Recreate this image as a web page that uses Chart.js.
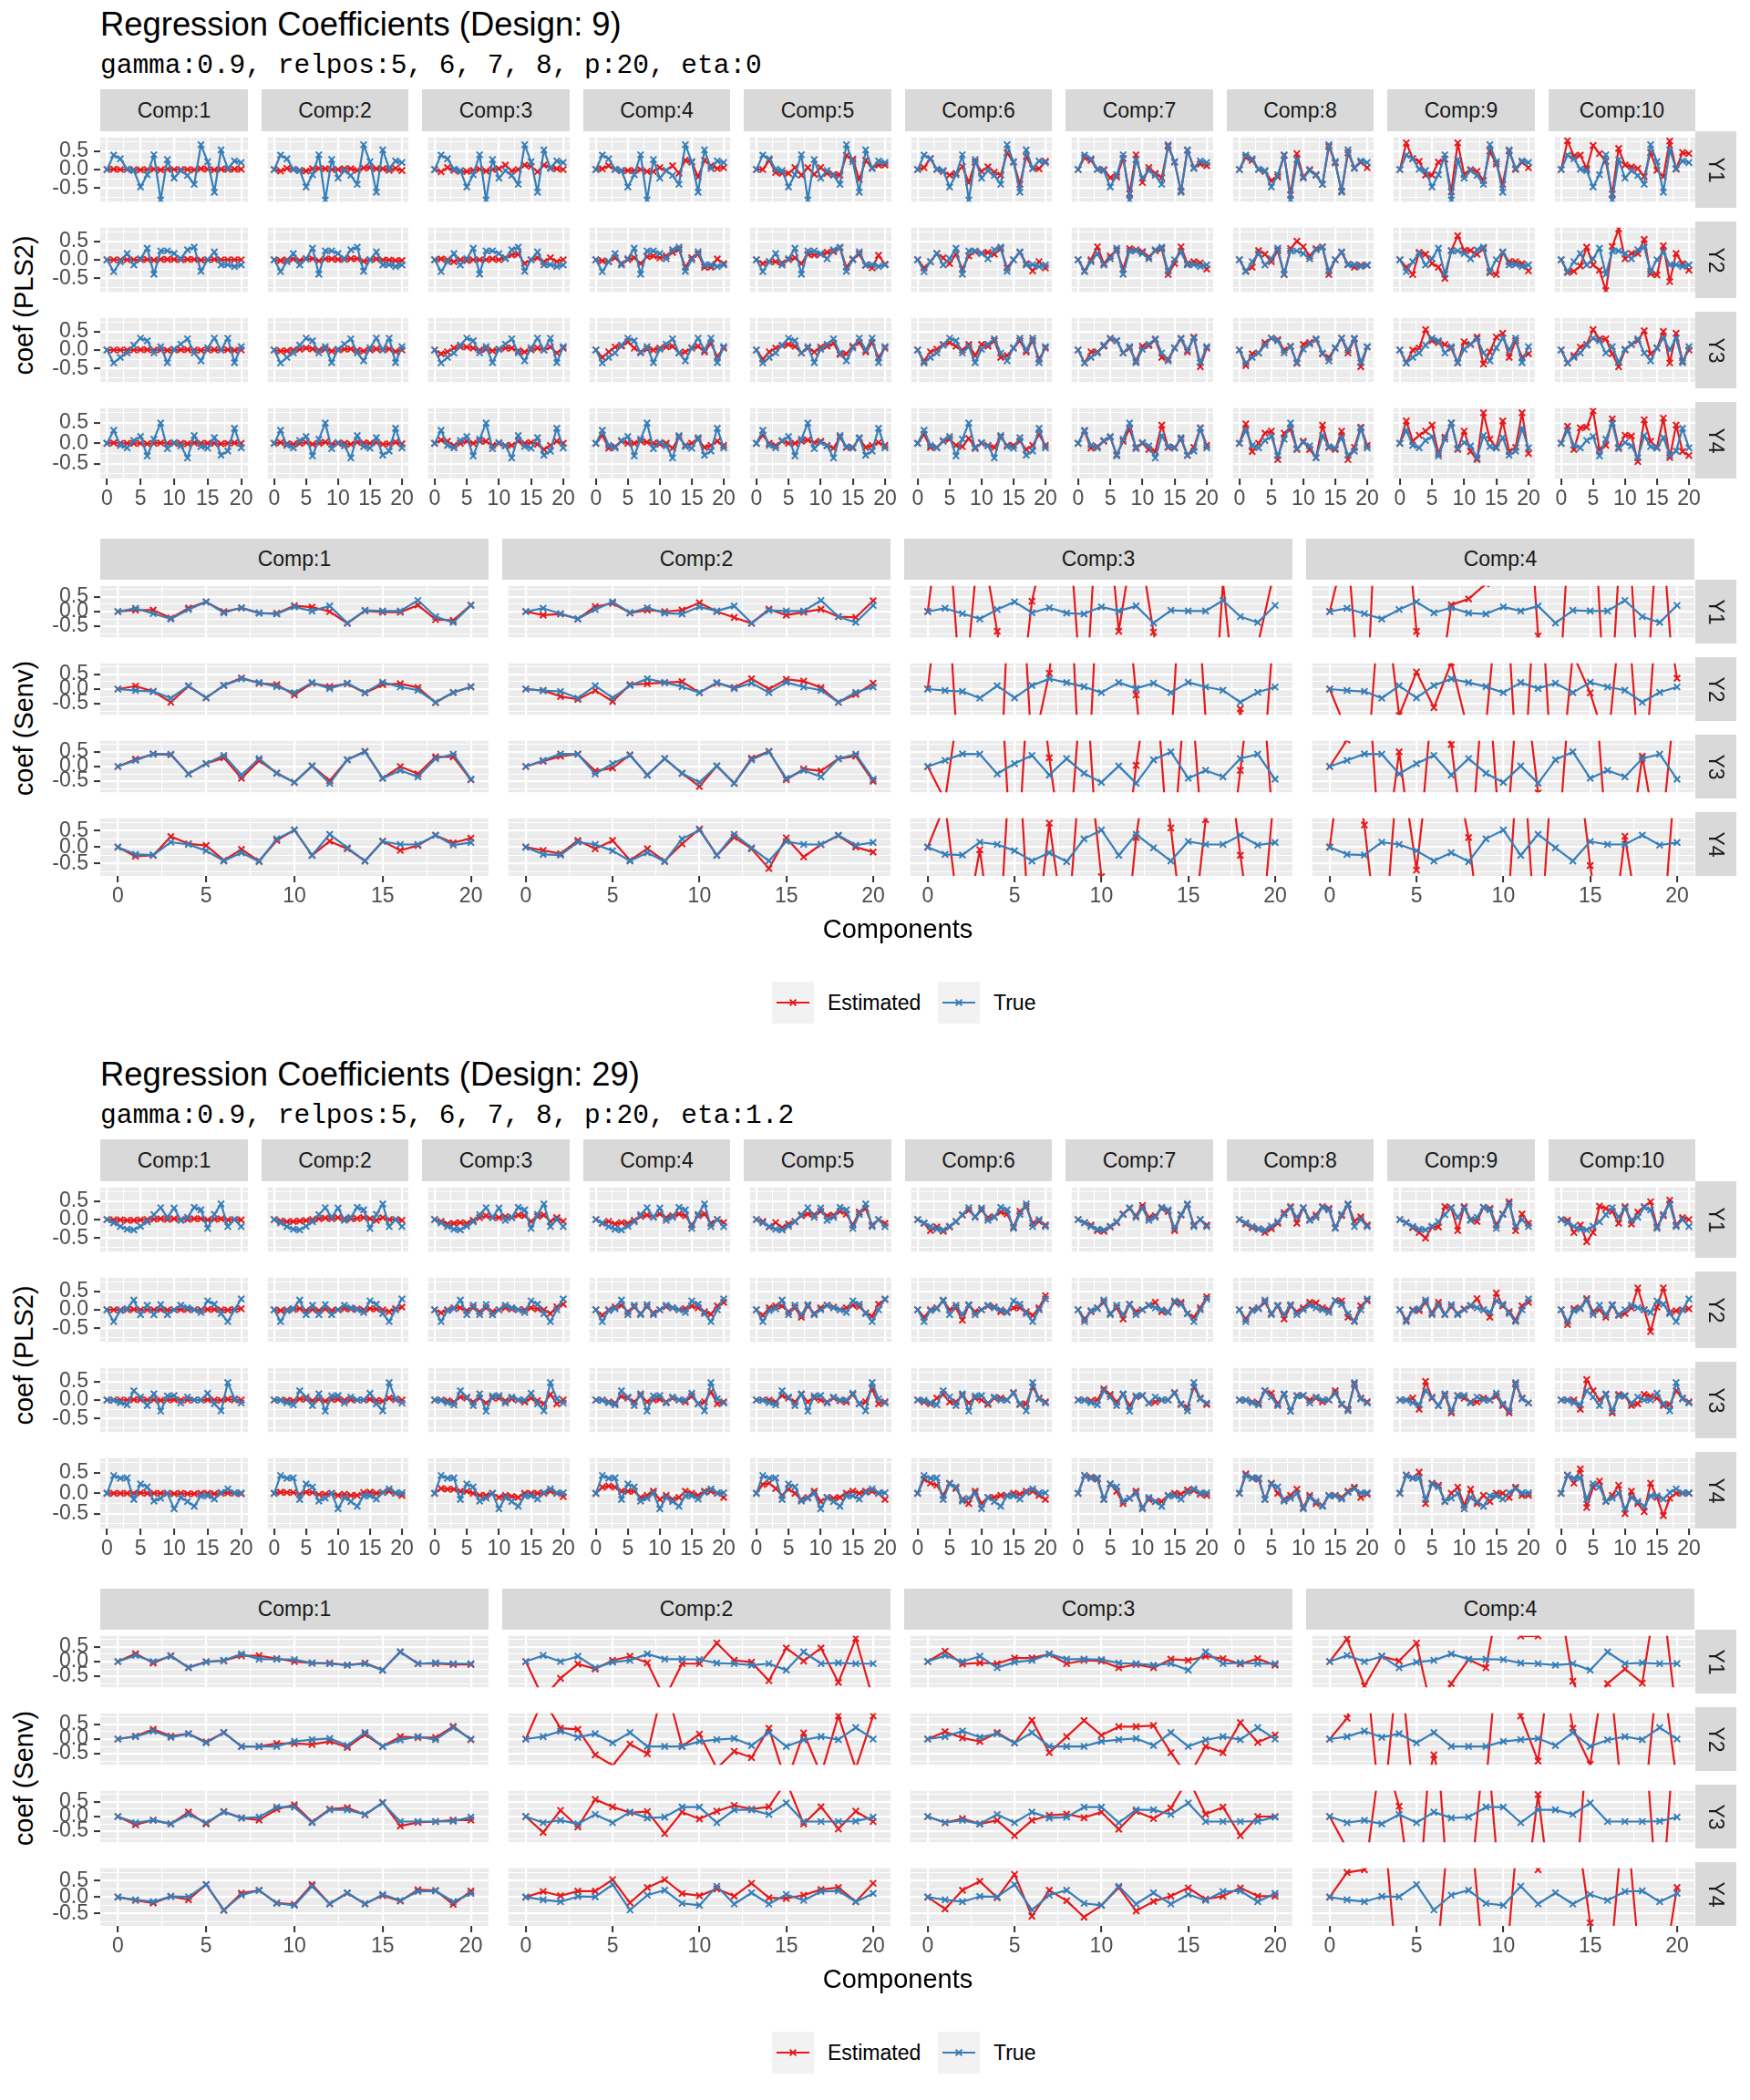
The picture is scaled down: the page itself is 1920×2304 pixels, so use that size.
<!DOCTYPE html>
<html><head><meta charset="utf-8">
<script src="https://cdn.jsdelivr.net/npm/chart.js@4.4.1/dist/chart.umd.min.js"></script>
<style>
body{margin:0;background:#fff;width:1920px;height:2304px;position:relative;overflow:hidden;font-family:"Liberation Sans",Arial,sans-serif;}
.strip{position:absolute;background:#D9D9D9;color:#1A1A1A;font-size:23px;display:flex;align-items:center;justify-content:center;white-space:nowrap;}
.rot{position:absolute;white-space:nowrap;line-height:1;}
</style></head><body>
<script>
// ---------------- DATA ----------------
const predictors = [0,1,2,3,4,5,6,7,8,9,10,11,12,13,14,15,16,17,18,19,20];
const xMajor = [0,5,10,15,20];
const xGridVals = [0,2.5,5,7.5,10,12.5,15,17.5,20];
const yMajor = [-0.5,0,0.5];
const yGridVals = [-0.75,-0.5,-0.25,0,0.25,0.5,0.75];
const compsPLS2 = ['Comp:1','Comp:2','Comp:3','Comp:4','Comp:5','Comp:6','Comp:7','Comp:8','Comp:9','Comp:10'];
const compsSenv = ['Comp:1','Comp:2','Comp:3','Comp:4'];
const responses = ['Y1','Y2','Y3','Y4'];
const legendLabels = ['Estimated','True'];
const designTitles = ['Regression Coefficients (Design: 9)','Regression Coefficients (Design: 29)'];
const designSubtitles = ['gamma:0.9, relpos:5, 6, 7, 8, p:20, eta:0','gamma:0.9, relpos:5, 6, 7, 8, p:20, eta:1.2'];
const yTitles = ['coef (PLS2)','coef (Senv)'];
const xTitle = 'Components';

// Design 9, PLS2 true coefficients
const d9_pls2_Y1_true = [0,0.39,0.29,0.01,-0.03,-0.47,-0.14,0.40,-0.82,0.27,-0.23,-0.03,-0.16,-0.40,0.67,0.21,-0.61,0.53,0.03,0.23,0.19];
const d9_pls2_Y2_true = [0,-0.32,-0.05,0.17,-0.14,0.03,0.31,-0.39,0.24,0.24,0.17,0.03,0.27,0.34,-0.31,0.0,0.21,-0.14,-0.13,-0.18,-0.14];
const d9_pls2_Y3_true = [0,-0.35,-0.2,-0.08,0.13,0.32,0.25,-0.08,0.09,-0.34,0.02,0.16,0.3,-0.08,-0.29,0.06,0.32,0.0,0.32,-0.34,0.09];
const d9_pls2_Y4_true = [0,0.32,-0.05,-0.11,0.07,0.17,-0.31,0.1,0.5,-0.13,0.02,-0.06,-0.36,0.19,-0.08,-0.12,0.14,-0.29,-0.19,0.37,-0.11];
// Design 9, PLS2 estimated (one row per component 1..10)
const d9_pls2_Y1_est = [
[0,0.01,0,0,0,-0.01,0,0.01,-0.01,0.01,0,0,0,-0.01,0.02,0.01,-0.01,0.01,0,0.01,0.01],
[0,-0.04,0.03,0,-0.02,-0.04,0.02,0.03,0.02,0,0,0.02,0.02,-0.02,0.04,0.05,0.02,0.02,-0.02,0.03,-0.03],
[0,-0.06,0.05,-0.02,-0.05,-0.05,-0.02,0.01,-0.04,0,0.02,0.12,-0.04,0,0.12,0.08,-0.06,0.12,0.05,0.02,0],
[0,0.02,0.1,0,-0.03,-0.03,-0.03,0,-0.05,-0.05,0.05,-0.03,0.1,-0.1,0.25,0.2,-0.2,0.25,0.1,0.03,0.05],
[0,0,0.25,-0.08,-0.1,-0.1,0.05,-0.15,0.05,-0.13,0.05,-0.1,-0.13,-0.15,0.38,0.28,-0.27,0.25,0.05,0.12,0.12],
[0,0.05,0.3,0,-0.05,-0.15,-0.1,0.08,-0.35,0.2,-0.05,0.07,-0.07,-0.15,0.45,0.2,-0.4,0.35,0.03,0.02,0.22],
[0,0.32,0.25,0,0,-0.22,-0.2,0.3,-0.65,0.4,-0.35,0.05,-0.1,-0.22,0.63,0.2,-0.58,0.52,0.05,0.15,0.1],
[0,0.33,0.25,0,-0.05,-0.3,-0.2,0.38,-0.68,0.43,-0.2,0,-0.14,-0.4,0.62,0.18,-0.58,0.45,0.05,0.2,0.05],
[0,0.72,0.3,0.22,-0.15,-0.15,0.2,0.28,-0.6,0.72,-0.13,0,-0.05,-0.3,0.5,0.15,-0.4,0.5,0,0.2,0.05],
[0,0.78,0.36,0.39,0.02,0.65,0.43,0.22,-0.66,0.57,0.12,0.07,0.03,-0.19,0.46,-0.02,-0.19,0.77,0.01,0.46,0.43]];
const d9_pls2_Y2_est = [
[0,0,0,0,0,0,0.01,-0.01,0.01,0.01,0.01,0,0.01,0.01,-0.01,0,0.01,0,0,0,0],
[0,-0.02,0,0.02,-0.02,0.02,0.03,-0.03,0.02,0.02,0.01,0.01,0.03,0.03,-0.04,0,0.02,-0.01,-0.01,-0.02,-0.02],
[0,0.02,0,-0.05,0,-0.02,0,0,0,0.02,0,0.05,0.13,0.15,-0.1,0,0.05,-0.05,0.05,-0.05,0],
[0,-0.03,-0.05,0.05,-0.1,0,0.05,-0.1,0.08,0.1,0.05,0.1,0.2,0.28,-0.2,0.05,0.15,-0.2,-0.2,0.02,-0.1],
[0,-0.1,-0.05,-0.05,-0.08,0,0.05,-0.1,0.15,0.13,0.15,0.2,0.22,0.32,-0.2,0.02,0.15,-0.15,-0.22,0.12,-0.12],
[0,-0.22,-0.05,0.17,0.05,-0.1,0.15,-0.25,0.1,0.22,0.18,0.2,0.15,0.3,-0.22,0,0.2,-0.1,-0.3,-0.05,-0.22],
[0,-0.3,0,0.35,-0.1,0.1,0.25,-0.25,0.3,0.27,0.22,0.08,0.24,0.3,-0.4,-0.1,0.35,-0.1,-0.05,-0.08,-0.25],
[0,-0.3,-0.2,0.25,0.15,-0.05,0.25,-0.4,0.3,0.5,0.35,0.1,0.3,0.35,-0.4,0,0.2,-0.12,-0.2,-0.15,-0.15],
[0,-0.2,-0.4,0.2,0.15,-0.1,-0.2,-0.5,0.25,0.65,0.25,0.25,0.15,0.3,-0.35,-0.4,0.2,-0.05,-0.05,-0.1,-0.3],
[0,-0.34,-0.31,-0.17,0.34,-0.14,-0.28,-0.83,0.36,0.83,0.03,0.17,0.17,0.55,-0.38,-0.41,0.38,-0.59,0.17,-0.1,-0.28]];
const d9_pls2_Y3_est = [
[0,0,0,0,0,0.01,0.01,0,0,-0.01,0,0.01,0.01,0,-0.01,0,0.01,0,0.01,-0.01,0],
[0,-0.03,-0.02,0,0.02,0.05,0.03,0,0.02,-0.03,0,0.02,0.03,-0.01,-0.03,0,0.03,0,0.03,-0.04,0],
[0,-0.1,-0.05,0.05,0.08,0.08,0.05,0,0.02,-0.02,0.02,0.05,0.05,-0.02,-0.05,0,0.05,0,0.08,-0.08,0.05],
[0,-0.2,-0.05,0.08,0.1,0.22,0.05,-0.05,0.02,0,0.05,0.08,0.1,-0.08,-0.05,0.05,0.1,-0.05,0.18,-0.18,0.05],
[0,-0.25,-0.05,0.05,0.12,0.15,0.1,-0.08,0.05,-0.05,0.08,0.1,0.18,-0.12,-0.1,0.1,0.2,-0.05,0.2,-0.2,0.05],
[0,-0.3,-0.05,0.02,0.15,0.2,0.1,0,0.15,-0.15,0.15,0.1,0.25,-0.2,-0.15,0.05,0.25,-0.05,0.25,-0.25,0.05],
[0,-0.35,-0.05,-0.05,0.1,0.3,0.25,-0.08,0.05,-0.3,0.1,0.12,0.28,-0.2,-0.25,0.05,0.3,-0.05,0.35,-0.45,0.05],
[0,-0.42,-0.1,-0.08,0.2,0.32,0.28,0,0.1,-0.36,0.15,0.2,0.28,-0.1,-0.2,0.05,0.32,-0.08,0.3,-0.45,0.08],
[0,-0.35,0,0.05,0.55,0.25,0.2,0.15,0.05,-0.35,0.22,0.15,0.35,-0.38,-0.05,0.35,0.45,-0.2,0.25,-0.2,-0.1],
[0,-0.35,-0.15,0.08,0.15,0.55,0.3,0.3,-0.1,-0.45,0,0.15,0.25,0.52,-0.1,0.05,0.5,-0.35,0.45,-0.3,0]];
const d9_pls2_Y4_est = [
[0,0.01,0,0,0,0,-0.01,0,0.01,0,0,0,-0.01,0.01,0,0,0,-0.01,0,0.01,0],
[0,0.02,-0.01,-0.02,0,0.02,-0.02,0,0.03,-0.02,0,0,-0.02,0.03,0.01,0,0.02,-0.02,-0.01,0.03,-0.01],
[0,0.08,0.05,-0.05,0,0.05,0,0.05,0.05,-0.05,0,-0.05,-0.05,0.05,0,0.02,-0.02,-0.15,-0.05,0.05,0],
[0,0.2,-0.12,-0.08,0.05,0,0,0.05,0.03,0,-0.02,0,-0.12,0.15,-0.05,0,0.1,-0.1,-0.05,0.05,-0.05],
[0,0.2,0,-0.05,0.05,0,0,0.05,0.08,0.02,0.05,-0.05,-0.12,0.15,-0.1,-0.1,0.12,-0.1,-0.05,0.02,-0.05],
[0,0.22,-0.1,-0.1,0.05,0.1,-0.05,-0.08,0.12,-0.1,0,-0.05,-0.1,0.15,-0.05,-0.05,0.05,-0.15,-0.05,0.22,-0.05],
[0,0.3,-0.12,-0.08,0.05,0.15,-0.28,0.05,0.35,-0.1,0,-0.15,-0.2,0.45,-0.1,-0.1,0.1,-0.3,-0.1,0.38,-0.05],
[0,0.48,-0.2,0,0.25,0.3,-0.4,0.25,0.35,-0.15,0.05,-0.15,-0.35,0.45,-0.1,-0.15,0.3,-0.4,-0.1,0.4,-0.05],
[0,0.55,0.05,0.2,0.3,0.45,-0.25,0.15,0.5,-0.15,0.3,-0.2,-0.4,0.75,0.1,-0.1,0.55,-0.2,-0.1,0.75,-0.25],
[0,0.42,-0.15,0.38,0.4,0.8,-0.15,-0.05,0.6,-0.1,0.2,0.18,-0.45,0.58,0.05,-0.1,0.62,-0.35,0.45,-0.2,-0.3]];

// Design 9, Senv
const d9_senv_Y1_true = [0,0.11,-0.07,-0.25,0.07,0.33,-0.04,0.13,-0.05,-0.08,0.16,0.02,0.19,-0.39,0.04,0.02,0.02,0.38,-0.17,-0.37,0.21];
const d9_senv_Y2_true = [0,-0.05,-0.08,-0.31,0.11,-0.3,0.12,0.35,0.22,0.08,-0.12,0.22,0.02,0.2,-0.12,0.23,0.07,-0.04,-0.45,-0.11,0.07];
const d9_senv_Y3_true = [0,0.21,0.43,0.42,-0.25,0.1,0.38,-0.29,0.27,-0.23,-0.54,0.02,-0.57,0.23,0.5,-0.4,-0.13,-0.35,0.27,0.42,-0.43];
const d9_senv_Y4_true = [0,-0.22,-0.24,0.15,0.08,-0.11,-0.42,-0.17,-0.44,0.25,0.52,-0.25,0.39,-0.02,-0.42,0.17,0.08,0.08,0.36,0.06,0.14];
const d9_senv_Y1_est = [
[0,0.05,0.05,-0.22,0.12,0.33,0,0.12,-0.05,-0.06,0.2,0.15,0,-0.4,0.03,-0.02,-0.02,0.22,-0.27,-0.3,0.22],
[0,-0.12,-0.08,-0.25,0.17,0.28,-0.04,0.05,0,0.05,0.3,0,-0.2,-0.4,0.08,-0.12,-0.02,0.08,-0.17,-0.2,0.37],
[0,4.5,-3.6,2.8,-0.67,-4.8,0.35,3,4,-4,5.8,-0.67,3,-0.7,-4,-5,-8,1.0,-4.7,-1.15,1.5],
[0,2.4,-5,8,6,-0.67,-4,0.23,0.43,0.95,5,8,-0.83,-5,5,6,-5,5,-5,4,-4]];
const d9_senv_Y2_est = [
[0,0.1,-0.08,-0.45,0.1,-0.3,0.13,0.38,0.2,0.15,-0.2,0.2,0.08,0.18,-0.13,0.15,0.18,0.05,-0.46,-0.12,0.08],
[0,-0.05,-0.25,-0.35,-0.05,-0.42,0.15,0.18,0.22,0.25,-0.12,0.2,0.05,0.35,0,0.33,0.27,0.05,-0.45,-0.18,0.2],
[0,5,-5,-5,-6,8,-2.2,0.54,6,-6,6,6,-0.2,-6,-2,8,-1.0,-5,-0.67,-5.3,2.7],
[0,-1.45,-4,4,-0.9,0.58,-0.63,0.9,-1.5,-1.2,5,-5,5,-5,1.2,-0.13,-2,4,-4,4,0.37]];
const d9_senv_Y3_est = [
[0,0.25,0.42,0.4,-0.25,0.1,0.3,-0.4,0.2,-0.22,-0.54,0.02,-0.48,0.23,0.52,-0.4,0,-0.25,0.33,0.33,-0.45],
[0,0.18,0.35,0.42,-0.15,-0.05,0.4,-0.29,0.27,-0.23,-0.68,0.02,-0.57,0.28,0.52,-0.45,-0.08,-0.15,0.27,0.35,-0.5],
[0,-1.15,3,4,5,-5,5,0.3,-4,4,-5,-5,0.04,4,-4,4,-4,-5,-0.13,5,-3],
[0,0.9,5,-4,0.5,-4,3,0.75,-4,4,-4,4,-0.9,-4,4,5,-3,-4,0.35,-3,3]];
const d9_senv_Y4_est = [
[0,-0.28,-0.25,0.32,0.1,0.05,-0.4,-0.07,-0.42,0.2,0.52,-0.25,0.18,-0.05,-0.42,0.18,-0.1,0.05,0.36,0.13,0.27],
[0,-0.1,-0.2,0.2,-0.05,0.2,-0.4,-0.05,-0.42,0.1,0.55,-0.25,0.3,-0.05,-0.65,0.28,-0.3,0.08,0.35,0,-0.15],
[0,1.3,-3,-0.08,-4,5,-4,0.73,-3,4,-0.9,-5,0.29,4,0.58,-4,0.83,4,-0.25,-4,2],
[0,4,0.67,-4,3,-0.7,4,3,0.29,-4,-4,4,-4,4,4,-0.56,-4,0.33,-3,-4,3]];

// Design 29, PLS2
const d29_pls2_Y1_true = [0,-0.09,-0.19,-0.26,-0.28,-0.18,-0.06,0.13,0.32,0.06,0.31,-0.02,0.06,0.33,0.26,-0.24,0.14,0.42,-0.19,0.0,-0.19];
const d29_pls2_Y2_true = [0,-0.32,-0.02,0.03,0.26,-0.13,0.12,-0.13,0.14,-0.13,0.0,0.12,0.05,0.0,-0.07,0.24,0.15,-0.1,-0.32,0.0,0.29];
const d29_pls2_Y3_true = [0,-0.01,-0.07,-0.13,0.25,0.08,-0.15,0.17,-0.3,0.11,0.12,-0.08,0.08,0.0,0.0,0.18,-0.1,-0.29,0.47,0.03,-0.08];
const d29_pls2_Y4_true = [0,0.44,0.37,0.38,-0.15,0.23,0.16,-0.19,-0.12,0.0,-0.38,-0.1,-0.2,-0.32,-0.06,-0.06,-0.14,0.02,0.11,0.01,0.01];
const d29_pls2_Y1_est = [
[0,-0.01,-0.01,-0.02,-0.02,-0.01,0,0.01,0.02,0,0.02,0,0,0.02,0.02,-0.01,0.01,0.02,-0.01,0,-0.01],
[0,-0.04,-0.06,-0.05,-0.04,-0.03,0,0.02,0.04,0.02,0.05,0.02,0.02,0.03,0.05,0.02,-0.02,0.05,0,0,-0.02],
[0,-0.05,-0.12,-0.1,-0.08,-0.1,-0.02,0.05,0.1,0.05,0.05,0.08,0.05,0.12,0.1,-0.05,0.08,0.12,-0.05,0.05,-0.05],
[0,-0.1,-0.05,-0.12,-0.08,-0.1,-0.02,0.08,0.12,0.08,0.15,0.05,0.1,0.15,0.1,-0.15,0.1,0.15,-0.1,0,-0.08],
[0,-0.05,-0.2,-0.08,-0.22,-0.12,-0.05,0.1,0.15,0.13,0.22,0.1,0.12,0.22,0.15,-0.15,0.2,0.3,-0.15,0,-0.1],
[0,-0.1,-0.3,-0.2,-0.32,-0.2,-0.05,0.12,0.25,0.08,0.25,0.05,0.08,0.2,0.15,-0.2,0.22,0.35,-0.1,-0.05,-0.15],
[0,-0.08,-0.15,-0.3,-0.32,-0.2,-0.08,0.15,0.3,0.1,0.38,0.05,0.1,0.3,0.22,-0.3,0.12,0.4,-0.15,0,-0.15],
[0,-0.12,-0.22,-0.25,-0.35,-0.25,-0.1,0.18,0.35,-0.1,0.32,0,0.12,0.35,0.3,-0.22,0.1,0.4,-0.05,0.07,-0.15],
[0,-0.08,-0.22,-0.35,-0.5,-0.2,-0.2,0.35,0.32,-0.3,0.35,0,-0.05,0.33,0.3,-0.15,0.15,0.48,-0.3,0.15,-0.1],
[0,-0.02,-0.35,-0.15,-0.6,-0.35,0.36,0.3,0.22,-0.1,0.35,-0.12,0.2,0.35,0.48,-0.2,0.1,0.52,-0.15,0.05,0]];
const d29_pls2_Y2_est = [
[0,0,0,0,0.01,0,0,0,0.01,-0.01,0,0.01,0.01,0,0,0.01,0.01,0,-0.01,0.01,0.03],
[0,-0.02,0,0.01,0.03,-0.02,0.01,-0.02,0.02,-0.02,0,0.03,0.02,0.02,0,0.03,0.02,0,-0.05,0.03,0.07],
[0,-0.08,0,0.05,0.05,-0.02,0.05,-0.05,0.05,-0.05,0,0.05,0.02,0,0,0.05,0.02,0,-0.1,0.08,0.15],
[0,-0.15,0,0.08,0.12,-0.05,0.07,-0.1,0.08,-0.08,0,0.08,0.05,0,0.03,0.1,0.05,-0.05,-0.12,0.1,0.2],
[0,-0.15,0.05,0.1,0.1,-0.05,0.05,-0.2,0.1,-0.1,0.05,0.12,0.07,0,0.05,0.12,0.08,-0.08,-0.18,0.15,0.28],
[0,-0.2,0,0.05,0.24,0,0.05,-0.28,0.12,-0.05,0,0.1,0.08,-0.05,-0.05,0.05,0.05,-0.05,-0.15,0.05,0.38],
[0,-0.25,-0.05,0.05,0.2,-0.1,0.05,-0.25,0.15,-0.05,0,0.12,0.2,-0.05,-0.05,0.2,0.2,-0.1,-0.2,0.05,0.35],
[0,-0.25,0,0.05,0.2,-0.1,0.1,-0.25,0.1,-0.05,0.05,0.2,0.18,0.05,0,0.25,0.24,-0.2,-0.3,0.1,0.24],
[0,-0.28,0,-0.02,0.2,-0.08,0.2,-0.12,0.08,-0.1,0.02,0.1,0.3,0,-0.2,0.45,0.1,-0.05,-0.28,0.1,0.2],
[0,-0.4,0.03,0.05,0.3,-0.05,0,-0.2,0.12,-0.15,-0.1,0.05,0.59,0,-0.59,0.07,0.59,-0.07,-0.03,0,0.03]];
const d29_pls2_Y3_est = [
[0,0,0,0,0.01,0.01,0,0.01,-0.01,0,0.01,0,0,0,0,0.01,0,-0.01,0.02,0,0],
[0,0,-0.01,-0.02,0.03,0.02,-0.02,0.02,-0.03,0.01,0.02,-0.01,0.01,0,0,0.02,-0.01,-0.03,0.05,0.01,0],
[0,0,-0.02,-0.05,0.08,0.05,-0.05,0.05,-0.08,0.05,0.05,-0.02,0.03,0,-0.05,0.05,-0.02,-0.1,0.15,-0.1,0],
[0,0,-0.05,-0.08,0.1,0.05,-0.05,0.12,-0.05,0,0.02,-0.05,0.05,0,-0.05,0.1,-0.1,-0.05,0.22,-0.1,-0.05],
[0,0,0,-0.05,0.12,0.05,-0.05,0.15,-0.05,0.05,0,-0.05,0.05,-0.02,-0.05,0.15,-0.1,-0.05,0.3,-0.1,-0.05],
[0,-0.05,-0.1,0.05,0.15,-0.05,-0.05,0.12,-0.08,0.05,0,-0.12,0.05,0.05,0,0.2,-0.12,-0.1,0.35,0.05,-0.05],
[0,0,-0.02,0,0.3,0.15,-0.05,0.15,-0.15,0.08,0.12,-0.08,-0.05,0,0,0.2,-0.12,-0.2,0.35,0.05,-0.12],
[0,0,-0.05,-0.08,0.25,0.18,-0.1,0.15,-0.3,0.12,0.12,0,0.05,-0.05,0,0.25,-0.12,-0.25,0.42,0.05,-0.05],
[0,0,0.05,-0.25,0.5,0.05,-0.15,0.12,-0.35,0.12,0.05,-0.05,-0.05,0.05,0,0.1,-0.15,-0.35,0.42,0.05,-0.08],
[0,0,0,-0.25,0.55,0.25,0,0.15,-0.35,0.15,0.1,-0.15,-0.1,0.15,0.1,0.05,-0.15,-0.12,0.25,0.05,-0.05]];
const d29_pls2_Y4_est = [
[0,0,0,0,0,0.01,0,0,0,0,-0.01,0,-0.01,-0.01,0,0,-0.01,0,0.01,0,-0.01],
[0,0.03,0.02,0.02,-0.02,0.03,0.02,-0.03,-0.02,0,-0.05,-0.02,-0.05,-0.05,0.02,0.03,0,0.02,0.05,0,-0.05],
[0,0.12,0.1,0.1,0.05,0.05,0,-0.05,-0.05,0,-0.1,-0.05,-0.08,-0.1,0,0,0,0,0.05,0,-0.08],
[0,0.15,0.18,0.15,0.05,0.05,0.05,-0.1,-0.05,0.05,-0.15,-0.05,-0.15,-0.1,0.05,0,-0.05,0.05,0.05,0,-0.1],
[0,0.22,0.25,0.12,-0.05,0.1,0,-0.15,-0.1,0.05,-0.2,-0.1,-0.12,-0.1,0,0.05,0,0.05,0.05,0,-0.15],
[0,0.35,0.25,0.2,-0.05,0.25,0.12,-0.15,-0.25,0.05,-0.25,-0.1,-0.1,-0.05,-0.05,0,-0.02,0.05,0.05,-0.05,-0.15],
[0,0.44,0.4,0.35,-0.15,0.23,0.05,-0.25,-0.12,0.05,-0.35,-0.15,-0.2,-0.2,-0.05,0,-0.02,0.08,0.07,-0.02,-0.05],
[0,0.48,0.38,0.35,-0.15,0.25,0,-0.15,-0.05,0.1,-0.35,-0.05,-0.25,-0.3,-0.05,-0.05,-0.1,0.05,0.15,-0.1,-0.02],
[0,0.45,0.38,0.52,-0.25,0.25,0.2,-0.2,0,0.15,-0.3,0.1,-0.25,-0.05,-0.2,0,0,-0.1,0.15,-0.05,-0.05],
[0,0.45,0.25,0.6,-0.35,0.15,0.3,-0.2,-0.05,0.2,-0.5,0.05,-0.25,-0.45,0.25,-0.1,-0.55,-0.12,0,0,0]];

// Design 29, Senv
const d29_senv_Y1_true = [0,0.21,0.0,0.18,-0.21,-0.02,0.04,0.26,0.08,0.08,0.07,-0.05,-0.07,-0.12,-0.07,-0.29,0.33,-0.07,-0.04,-0.07,-0.07];
const d29_senv_Y2_true = [0,0.08,0.27,0.06,0.18,-0.13,0.22,-0.25,-0.25,-0.25,-0.08,-0.02,0.02,-0.22,0.22,-0.25,-0.03,0.08,-0.02,0.39,0.0];
const d29_senv_Y3_true = [0,-0.21,-0.13,-0.25,0.07,-0.21,0.15,-0.05,-0.02,0.32,0.32,-0.21,0.23,0.23,0.07,0.46,-0.17,-0.17,-0.17,-0.16,-0.02];
const d29_senv_Y4_true = [0,-0.08,-0.14,0.02,0.01,0.38,-0.39,0.06,0.21,-0.19,-0.25,0.33,-0.21,0.13,-0.21,0.08,-0.1,0.17,0.19,-0.14,0.11];
const d29_senv_Y1_est = [
[0,0.27,-0.05,0.2,-0.2,0,0.03,0.2,0.2,0.1,0,-0.05,-0.05,-0.12,-0.05,-0.29,0.33,-0.07,-0.07,-0.1,-0.1],
[0,-1.25,-0.57,-0.08,-0.25,0.04,0.18,-0.04,-1.25,-0.07,-0.07,0.63,0.04,-0.02,-0.65,0.46,0.02,0.46,-0.71,0.79,-1.3],
[0,0.35,-0.08,-0.04,-0.07,0.12,0.12,0.25,-0.07,0.04,0.02,-0.21,-0.1,-0.21,0.08,0.04,0.18,0.1,-0.08,0.1,-0.12],
[0,0.77,-0.83,0.18,0.02,0.63,-2,-0.75,0.07,-0.21,3,0.87,0.87,3,-0.67,-2,-0.75,-0.25,-0.73,3,-2]];
const d29_senv_Y2_est = [
[0,0.1,0.33,0.1,0.18,-0.1,0.22,-0.25,-0.25,-0.15,-0.15,-0.18,-0.08,-0.28,0.15,-0.25,0.08,0.05,0.05,0.43,-0.02],
[0,1.35,0.37,0.33,-0.54,-0.9,-0.17,-0.5,2,-0.25,0.17,-1.0,-0.42,-0.63,0.37,-1.5,0.21,-1.2,0.79,-1.0,0.79],
[0,0.25,0.04,-0.08,0.22,-0.13,0.64,-0.46,0.08,0.63,0.13,0.42,0.42,0.46,-0.46,-1.3,-0.25,-0.46,0.56,-0.11,0.14],
[0,0.71,3,-3,3,-3,-0.54,-3,-3,-1.5,5,0.79,-0.75,4,0.37,-0.86,3,-3,-3,3,-1.5]];
const d29_senv_Y3_est = [
[0,-0.28,-0.12,-0.25,0.15,-0.25,0.17,-0.05,-0.12,0.25,0.4,-0.18,0.25,0.3,0.06,0.48,-0.32,-0.2,-0.17,-0.12,-0.12],
[0,-0.54,0.21,-0.35,0.58,0.33,0.13,0.17,-0.58,0.15,-0.08,0.18,0.38,0.25,0.33,1.2,-0.25,0.33,-0.42,0.18,-0.17],
[0,-0.21,-0.07,-0.25,-0.13,-0.65,-0.13,0.04,0.08,-0.04,0.15,-0.43,0.17,-0.07,0.29,1.3,0.08,0.32,-0.65,0,0],
[0,-1.1,-2.1,2.4,0.35,-4,4,-4,-3,3,-4,-4,0.75,-4,-4,4,4,4,4,-4,4]];
const d29_senv_Y4_est = [
[0,-0.1,-0.18,0.02,-0.08,0.38,-0.4,0.12,0.2,-0.18,-0.22,0.38,-0.2,0.12,-0.2,0.05,-0.12,0.22,0.2,-0.22,0.18],
[0,0.17,0.04,0.18,0.18,0.53,-0.17,0.29,0.53,0.11,0.04,0.25,0.03,0.42,-0.02,-0.04,0.06,0.23,0.29,-0.14,0.42],
[0,-0.36,0.21,0.48,-0.02,0.69,-0.58,0.21,-0.11,-0.61,-0.25,0.29,-0.42,-0.13,0.03,0.28,-0.06,0.03,0.28,0.03,0.03],
[0,0.75,0.83,3,-3,-3,-3,3,3,-3,-3,3,0.83,3,3,-0.78,-3,3,-3,-3,0.29]];

// ---------------- LAYOUT / STYLE ----------------
const RED = '#E41A1C', BLUE = '#377EB8';
const FIG_OFFSETS = [0, 1152];
const PLS2_LIM = 0.866, SENV_LIM = 0.875;

const designs = [
  {pTrue:[d9_pls2_Y1_true,d9_pls2_Y2_true,d9_pls2_Y3_true,d9_pls2_Y4_true],
   pEst:[d9_pls2_Y1_est,d9_pls2_Y2_est,d9_pls2_Y3_est,d9_pls2_Y4_est],
   sTrue:[d9_senv_Y1_true,d9_senv_Y2_true,d9_senv_Y3_true,d9_senv_Y4_true],
   sEst:[d9_senv_Y1_est,d9_senv_Y2_est,d9_senv_Y3_est,d9_senv_Y4_est]},
  {pTrue:[d29_pls2_Y1_true,d29_pls2_Y2_true,d29_pls2_Y3_true,d29_pls2_Y4_true],
   pEst:[d29_pls2_Y1_est,d29_pls2_Y2_est,d29_pls2_Y3_est,d29_pls2_Y4_est],
   sTrue:[d29_senv_Y1_true,d29_senv_Y2_true,d29_senv_Y3_true,d29_senv_Y4_true],
   sEst:[d29_senv_Y1_est,d29_senv_Y2_est,d29_senv_Y3_est,d29_senv_Y4_est]}
];

Chart.defaults.font.family = '"Liberation Sans", Arial, sans-serif';
Chart.defaults.font.size = 23;
Chart.defaults.color = '#4D4D4D';

const near = (v, arr) => arr.some(a => Math.abs(a - v) < 1e-6);

const panelBg = {
  id: 'panelBg',
  beforeDraw(chart) {
    const a = chart.chartArea, c = chart.ctx;
    c.save(); c.fillStyle = '#EBEBEB';
    c.fillRect(a.left, a.top, a.right - a.left, a.bottom - a.top);
    c.restore();
  }
};

function div(cls, txt, css) {
  const d = document.createElement('div');
  if (cls) d.className = cls;
  d.textContent = txt;
  Object.assign(d.style, {position: 'absolute'}, css);
  document.body.appendChild(d);
  return d;
}

function makePanel(px, py, pw, ph, showX, showY, lim, trueVals, estVals) {
  const AX = showY ? 66 : 0, AH = showX ? 46 : 0, MR = 16;
  const cw = pw + AX + MR, ch = ph + AH;
  const cv = document.createElement('canvas');
  cv.width = cw; cv.height = ch;
  Object.assign(cv.style, {position: 'absolute', left: (px - AX) + 'px', top: py + 'px', width: cw + 'px', height: ch + 'px'});
  document.body.appendChild(cv);
  const toPts = vals => predictors.map((p, i) => ({x: p, y: vals[i]}));
  const ds = (label, vals, col) => ({
    label, data: toPts(vals), borderColor: col, backgroundColor: col,
    borderWidth: 2.2, borderJoinStyle: 'round', pointStyle: 'crossRot',
    pointRadius: 4.8, pointBorderWidth: 2, pointBorderColor: col, pointBackgroundColor: col,
    pointHoverRadius: 4.8, tension: 0, clip: 0, fill: false
  });
  const zeroPad = s => { s.paddingLeft = 0; s.paddingRight = 0; s.paddingTop = 0; s.paddingBottom = 0; };
  new Chart(cv, {
    type: 'line',
    data: {datasets: [ds(legendLabels[1], trueVals, BLUE), ds(legendLabels[0], estVals, RED)]},
    options: {
      responsive: false, animation: false, devicePixelRatio: 1, events: [],
      layout: {padding: {left: 0, top: 0, right: MR, bottom: 0}},
      plugins: {legend: {display: false}, tooltip: {enabled: false}},
      scales: {
        x: {
          type: 'linear', min: -1, max: 21, position: 'bottom',
          afterBuildTicks: s => { s.ticks = xGridVals.map(v => ({value: v})); },
          afterFit: s => { s.height = AH; zeroPad(s); },
          border: {display: false},
          grid: {
            color: '#FFFFFF',
            lineWidth: c => (c.tick && near(c.tick.value, xMajor)) ? 2.2 : 1.1,
            drawTicks: showX, tickLength: 7, tickWidth: 2,
            tickColor: c => (c.tick && near(c.tick.value, xMajor)) ? '#333333' : 'rgba(0,0,0,0)'
          },
          ticks: {
            display: showX, autoSkip: false, maxRotation: 0, minRotation: 0, padding: 2, color: '#4D4D4D',
            callback: v => near(v, xMajor) ? String(v) : ''
          }
        },
        y: {
          type: 'linear', min: -lim, max: lim, position: 'left',
          afterBuildTicks: s => { s.ticks = yGridVals.map(v => ({value: v})); },
          afterFit: s => { s.width = AX; zeroPad(s); },
          border: {display: false},
          grid: {
            color: '#FFFFFF',
            lineWidth: c => (c.tick && near(c.tick.value, yMajor)) ? 2.2 : 1.1,
            drawTicks: showY, tickLength: 7, tickWidth: 2,
            tickColor: c => (c.tick && near(c.tick.value, yMajor)) ? '#333333' : 'rgba(0,0,0,0)'
          },
          ticks: {
            display: showY, autoSkip: false, padding: 6, color: '#4D4D4D',
            callback: v => near(v, yMajor) ? v.toFixed(1) : ''
          }
        }
      }
    },
    plugins: [panelBg]
  });
}

function legendKey(x, y, col) {
  const s = `<svg width="46" height="46" xmlns="http://www.w3.org/2000/svg"><rect width="46" height="46" fill="#F2F2F2"/>` +
    `<line x1="5" y1="23" x2="41" y2="23" stroke="${col}" stroke-width="2.2"/>` +
    `<path d="M19.6 19.6 L26.4 26.4 M26.4 19.6 L19.6 26.4" stroke="${col}" stroke-width="2"/></svg>`;
  const d = document.createElement('div');
  Object.assign(d.style, {position: 'absolute', left: x + 'px', top: y + 'px', width: '46px', height: '46px'});
  d.innerHTML = s;
  document.body.appendChild(d);
}

FIG_OFFSETS.forEach((oy, f) => {
  const D = designs[f];
  div('', designTitles[f], {left: '110px', top: (oy + 8.5) + 'px', fontSize: '36.4px', lineHeight: '36px', color: '#000', whiteSpace: 'nowrap'});
  div('', designSubtitles[f], {left: '110px', top: (oy + 58) + 'px', fontSize: '29.5px', lineHeight: '29px', color: '#000', whiteSpace: 'pre', fontFamily: '"Liberation Mono", "Courier New", monospace'});

  // ---- PLS2 block ----
  compsPLS2.forEach((cname, c) => {
    const pl = Math.round(110 + c * 176.5), pr = Math.round(110 + c * 176.5 + 161.5);
    div('strip', cname, {left: pl + 'px', top: (oy + 98) + 'px', width: (pr - pl) + 'px', height: '46px'});
    responses.forEach((r, ri) => {
      const top = oy + 144 + ri * 99;
      makePanel(pl, top, pr - pl, 84, ri === 3, c === 0, PLS2_LIM, D.pTrue[ri], D.pEst[ri][c]);
    });
  });
  responses.forEach((r, ri) => {
    const s = div('strip', '', {left: '1860px', top: (oy + 144 + ri * 99) + 'px', width: '45px', height: '84px'});
    const t = document.createElement('span'); t.textContent = r; t.style.transform = 'rotate(90deg)'; t.style.display = 'inline-block';
    s.appendChild(t);
  });
  div('rot', yTitles[0], {left: '26px', top: (oy + 334.5) + 'px', fontSize: '29px', color: '#000', transform: 'translate(-50%,-50%) rotate(-90deg)'});

  // ---- Senv block ----
  compsSenv.forEach((cname, c) => {
    const pl = Math.round(110 + c * 441), w = 426;
    div('strip', cname, {left: pl + 'px', top: (oy + 591) + 'px', width: w + 'px', height: '45px'});
    responses.forEach((r, ri) => {
      const top = oy + 636 + ri * 85;
      makePanel(pl, top, w, 70, ri === 3, c === 0, SENV_LIM, D.sTrue[ri], D.sEst[ri][c]);
    });
  });
  responses.forEach((r, ri) => {
    const s = div('strip', '', {left: '1860px', top: (oy + 636 + ri * 85) + 'px', width: '45px', height: '70px'});
    const t = document.createElement('span'); t.textContent = r; t.style.transform = 'rotate(90deg)'; t.style.display = 'inline-block';
    s.appendChild(t);
  });
  div('rot', yTitles[1], {left: '26px', top: (oy + 799) + 'px', fontSize: '29px', color: '#000', transform: 'translate(-50%,-50%) rotate(-90deg)'});
  div('', xTitle, {left: '985px', top: (oy + 1005) + 'px', fontSize: '29px', lineHeight: '29px', color: '#000', transform: 'translateX(-50%)', whiteSpace: 'nowrap'});

  // ---- Legend ----
  legendKey(847, oy + 1077, RED);
  div('', legendLabels[0], {left: '908px', top: (oy + 1086) + 'px', fontSize: '23px', lineHeight: '28px', color: '#000', whiteSpace: 'nowrap'});
  legendKey(1029, oy + 1077, BLUE);
  div('', legendLabels[1], {left: '1090px', top: (oy + 1086) + 'px', fontSize: '23px', lineHeight: '28px', color: '#000', whiteSpace: 'nowrap'});
});
</script>
</body></html>
